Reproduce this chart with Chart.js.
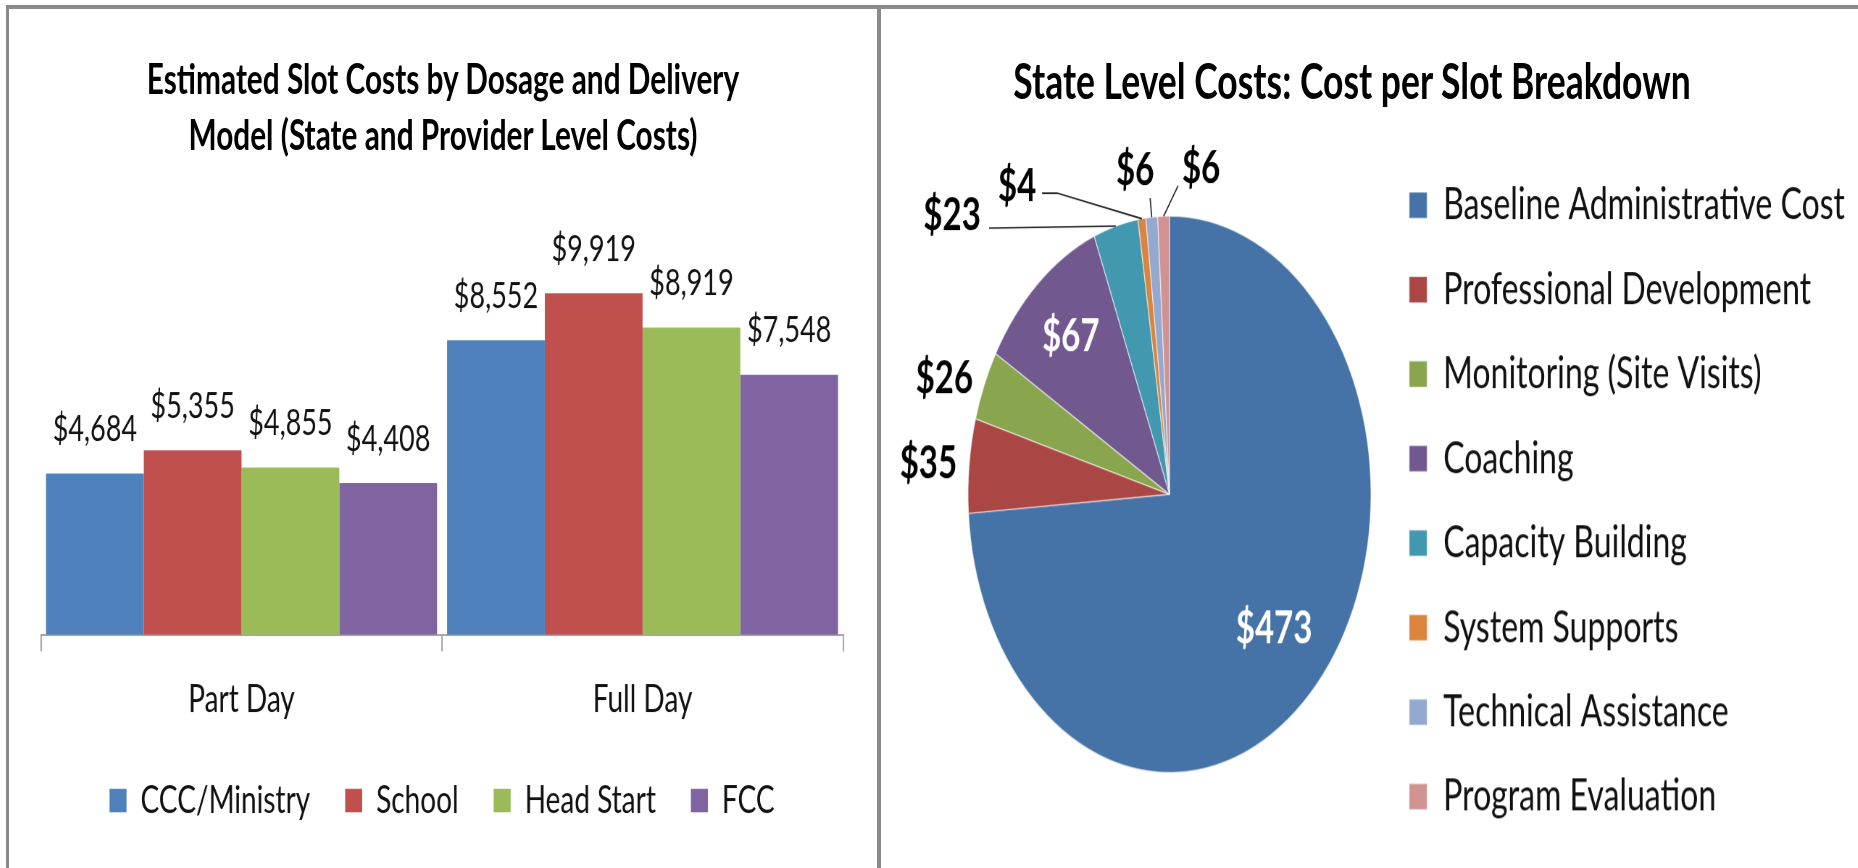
<!DOCTYPE html>
<html><head><meta charset="utf-8">
<script src="https://cdn.jsdelivr.net/npm/chart.js@4.4.1/dist/chart.umd.min.js"></script>
<style>
html,body{margin:0;padding:0;background:#fff;overflow:hidden;width:1858px;height:868px;}
#stage{position:absolute;left:0;top:0;width:1858px;height:629px;transform:scaleY(1.38);transform-origin:0 0;overflow:hidden;}
.line{position:absolute;background:#8a8a8a;}
.title{position:absolute;font-family:Lato, sans-serif;font-weight:bold;color:#000;text-align:center;white-space:nowrap;}
canvas{position:absolute;}
</style></head><body>
<div id="stage">
  <div class="title" style="left:10px;width:866px;top:35.8px;font-size:29.8px;line-height:41px;">Estimated Slot Costs by Dosage and Delivery<br>Model (State and Provider Level Costs)</div>
  <div class="title" style="left:952px;width:800px;top:37.5px;font-size:35.5px;line-height:42.6px;">State Level Costs: Cost per Slot Breakdown</div>
  <canvas id="bar" width="866" height="629" style="left:10px;top:0"></canvas>
  <canvas id="pie" width="971" height="680" style="left:884px;top:0"></canvas>
</div>
<div class="line" style="left:6px;top:5px;width:1852px;height:4px"></div>
<div class="line" style="left:6px;top:5px;width:3px;height:863px"></div>
<div class="line" style="left:877px;top:5px;width:4px;height:863px"></div>
<script>
// ---- data ----
const categories = ['Part Day', 'Full Day'];
const seriesNames = ['CCC/Ministry', 'School', 'Head Start', 'FCC'];
const cccMinistry = [4684, 8552];
const school = [5355, 9919];
const headStart = [4855, 8919];
const fcc = [4408, 7548];

const pieLabels = ['Baseline Administrative Cost', 'Professional Development', 'Monitoring (Site Visits)', 'Coaching', 'Capacity Building', 'System Supports', 'Technical Assistance', 'Program Evaluation'];
const pieValues = [473, 35, 26, 67, 23, 4, 6, 6];

// ---- styles ----
const barColors = ['#4F81BD', '#C0504D', '#9BBB59', '#8064A2'];
const pieColors = ['#4572A7', '#AA4643', '#89A54E', '#71588F', '#4198AF', '#DB843D', '#93A9CF', '#D19392'];
const FONT = 'Lato, sans-serif';
const DPR = 1.38;
Chart.defaults.font.family = FONT;
Chart.defaults.color = '#111';

const money = v => '$' + v.toLocaleString('en-US');

const barValueLabels = {
  id: 'barValueLabels',
  afterDatasetsDraw(chart) {
    const ctx = chart.ctx;
    ctx.save();
    ctx.font = '27px ' + FONT;
    ctx.fillStyle = '#111';
    ctx.textAlign = 'center';
    ctx.textBaseline = 'alphabetic';
    chart.data.datasets.forEach((ds, i) => {
      chart.getDatasetMeta(i).data.forEach((bar, j) => {
        ctx.fillText(money(ds.data[j]), bar.x, bar.y - 23.5);
      });
    });
    ctx.restore();
  }
};

new Chart(document.getElementById('bar'), {
  type: 'bar',
  data: {
    labels: categories,
    datasets: [cccMinistry, school, headStart, fcc].map((d, i) => ({
      label: seriesNames[i], data: d, backgroundColor: barColors[i], borderWidth: 0,
      categoryPercentage: 0.975, barPercentage: 1
    }))
  },
  options: {
    responsive: false, animation: false, devicePixelRatio: DPR,
    layout: { padding: { left: 31, right: 33, top: 160.5, bottom: 25 } },
    scales: {
      x: {
        grid: { display: true, drawOnChartArea: false, drawTicks: true, tickLength: 12, color: '#a6a6a6', lineWidth: 1.5, offset: true },
        border: { display: true, color: '#a6a6a6', width: 1.5 },
        ticks: { font: { size: 28, lineHeight: 1.2 }, color: '#111', padding: 18.2 },
        afterFit: s => { s.height = 71; }
      },
      y: { display: false, min: 0, max: 12000 }
    },
    plugins: {
      legend: { position: 'bottom', labels: { boxWidth: 17, boxHeight: 17, padding: 35, font: { size: 28 }, color: '#111' } },
      tooltip: { enabled: false }
    }
  },
  plugins: [barValueLabels]
});

// pie label placement style (relative to each slice's outer edge point)
const pieLabelStyle = [
  { mode: 'inside', f: 0.71, color: '#fff' },
  { mode: 'outside', gap: 12 },
  { mode: 'outside', gap: 12 },
  { mode: 'inside', f: 0.75, color: '#fff' },
  { mode: 'callout', dx: -163.7, dy: -8, leader: [[-126.7, 1.4]] },
  { mode: 'callout', dx: -124.8, dy: -23.6, leader: [[-84.8, -18.5], [-99.8, -18.5]] },
  { mode: 'callout', dx: -16.6, dy: -34.1, leader: [[-1.6, -13.8]] },
  { mode: 'callout', dx: 37.5, dy: -34.4, leader: [[14.5, -22.1]] }
];

const pieValueLabels = {
  id: 'pieValueLabels',
  afterDatasetsDraw(chart) {
    const ctx = chart.ctx;
    const meta = chart.getDatasetMeta(0);
    const vals = chart.data.datasets[0].data;
    ctx.save();
    ctx.font = 'bold 33px ' + FONT;
    ctx.textBaseline = 'middle';
    meta.data.forEach((arc, i) => {
      const st = pieLabelStyle[i];
      const a = (arc.startAngle + arc.endAngle) / 2;
      const R = arc.outerRadius;
      const cx = arc.x, cy = arc.y;
      const ex = cx + R * Math.cos(a), ey = cy + R * Math.sin(a);
      const txt = money(vals[i]);
      if (st.mode === 'inside') {
        ctx.fillStyle = st.color; ctx.textAlign = 'center';
        ctx.fillText(txt, cx + st.f * R * Math.cos(a), cy + st.f * R * Math.sin(a));
      } else if (st.mode === 'outside') {
        ctx.fillStyle = '#000';
        ctx.textAlign = Math.cos(a) < 0 ? 'right' : 'left';
        ctx.fillText(txt, ex + st.gap * Math.cos(a), ey + st.gap * Math.sin(a));
      } else {
        ctx.strokeStyle = '#222'; ctx.lineWidth = 1.2;
        ctx.beginPath(); ctx.moveTo(ex, ey);
        st.leader.forEach(p => ctx.lineTo(ex + p[0], ey + p[1]));
        ctx.stroke();
        ctx.fillStyle = '#000'; ctx.textAlign = 'center';
        ctx.fillText(txt, ex + st.dx, ey + st.dy);
      }
    });
    ctx.restore();
  }
};

// compute left padding so that the pie centre sits where it should
const PIE_CANVAS_LEFT = 884, PIE_CANVAS_W = 971, PIE_CENTER_X = 1169.5;
const legFont = 32, legBox = 18, legPad = 29.2;
const mctx = document.createElement('canvas').getContext('2d');
mctx.font = legFont + 'px ' + FONT;
const maxTW = Math.max(...pieLabels.map(t => mctx.measureText(t).width));
const legendW = legPad + legBox + legFont / 2 + maxTW + 10;
const legendLeft = PIE_CANVAS_W - legendW;
const padL = 2 * (PIE_CENTER_X - PIE_CANVAS_LEFT) - legendLeft;

new Chart(document.getElementById('pie'), {
  type: 'pie',
  data: {
    labels: pieLabels,
    datasets: [{ data: pieValues, backgroundColor: pieColors, borderColor: 'rgba(255,255,255,0.55)', borderWidth: 1, radius: 201.5 }]
  },
  options: {
    responsive: false, animation: false, devicePixelRatio: DPR,
    layout: { padding: { left: padL, right: 0, top: 40, bottom: 4 } },
    plugins: {
      legend: {
        position: 'right', align: 'center', maxWidth: 800,
        title: { display: true, text: '', font: { size: 9.6, lineHeight: 1 }, padding: 0 },
        labels: { boxWidth: legBox, boxHeight: 19, padding: legPad, font: { size: legFont }, color: '#111' }
      },
      tooltip: { enabled: false }
    }
  },
  plugins: [pieValueLabels]
});
</script>
</body></html>
